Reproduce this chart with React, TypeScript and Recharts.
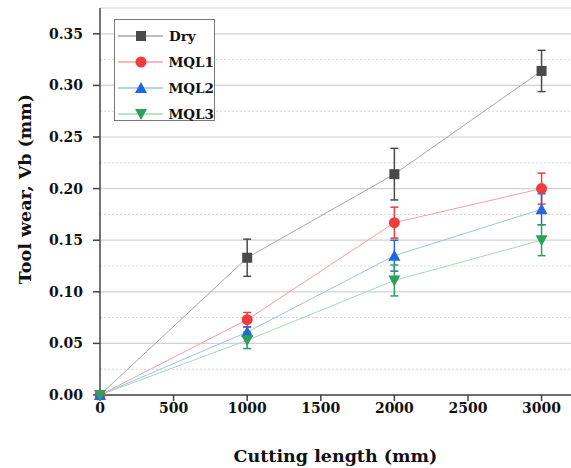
import React from "react";
import {
  CartesianGrid,
  ErrorBar,
  Line,
  LineChart,
  ReferenceLine,
  XAxis,
  YAxis,
} from "recharts";

const lengths = [0, 1000, 2000, 3000];

const dry = [0, 0.133, 0.214, 0.314];
const dryErr = [0, 0.018, 0.025, 0.02];
const mql1 = [0, 0.073, 0.167, 0.2];
const mql1Err = [0, 0.007, 0.015, 0.015];
const mql2 = [0, 0.061, 0.135, 0.18];
const mql2Err = [0, 0.005, 0.015, 0.015];
const mql3 = [0, 0.053, 0.111, 0.15];
const mql3Err = [0, 0.008, 0.015, 0.015];

const xTicks = [0, 500, 1000, 1500, 2000, 2500, 3000];
const yTicks = [0, 0.05, 0.1, 0.15, 0.2, 0.25, 0.3, 0.35];
const yMinor = [0.025, 0.075, 0.125, 0.175, 0.225, 0.275, 0.325];

const FONT = "'DejaVu Serif', 'Liberation Serif', serif";

type Shape = "square" | "circle" | "triangle" | "down";

const SERIES: {
  key: string;
  name: string;
  line: string;
  mark: string;
  shape: Shape;
}[] = [
  { key: "dry", name: "Dry", line: "#a8a8a8", mark: "#4a4a4a", shape: "square" },
  { key: "mql1", name: "MQL1", line: "#f4a2a2", mark: "#f03c3c", shape: "circle" },
  { key: "mql2", name: "MQL2", line: "#9fc1f2", mark: "#2168e0", shape: "triangle" },
  { key: "mql3", name: "MQL3", line: "#a2dab6", mark: "#2ca05e", shape: "down" },
];

const data = lengths.map((len, i) => ({
  len,
  dry: dry[i],
  dryErr: dryErr[i],
  mql1: mql1[i],
  mql1Err: mql1Err[i],
  mql2: mql2[i],
  mql2Err: mql2Err[i],
  mql3: mql3[i],
  mql3Err: mql3Err[i],
}));

function Marker({ cx, cy, shape, color }: { cx: number; cy: number; shape: Shape; color: string }) {
  if (shape === "square") {
    return <rect x={cx - 5} y={cy - 5} width={10} height={10} fill={color} />;
  }
  if (shape === "circle") {
    return <circle cx={cx} cy={cy} r={5.5} fill={color} />;
  }
  if (shape === "triangle") {
    return (
      <polygon
        points={`${cx},${cy - 6} ${cx - 6},${cy + 5} ${cx + 6},${cy + 5}`}
        fill={color}
      />
    );
  }
  return (
    <polygon
      points={`${cx},${cy + 6} ${cx - 6},${cy - 5} ${cx + 6},${cy - 5}`}
      fill={color}
    />
  );
}

function ChartLegend() {
  return (
    <div
      style={{
        position: "absolute",
        left: 114,
        top: 19,
        width: 101,
        height: 102,
        border: "1px solid #777",
        background: "#fff",
        boxSizing: "border-box",
        paddingTop: 3,
      }}
    >
      {SERIES.map((s) => (
        <div
          key={s.key}
          style={{ display: "flex", alignItems: "center", height: 26 }}
        >
          <svg width={50} height={16} style={{ marginLeft: 2 }}>
            <line x1={1} y1={8} x2={46} y2={8} stroke={s.line} strokeWidth={1.5} />
            <Marker cx={24} cy={8} shape={s.shape} color={s.mark} />
          </svg>
          <span
            style={{
              fontFamily: FONT,
              fontWeight: "bold",
              fontSize: 13.5,
              color: "#111",
              marginLeft: 2,
            }}
          >
            {s.name}
          </span>
        </div>
      ))}
    </div>
  );
}

export default function App() {
  const tickStyle = { fontFamily: FONT, fontWeight: "bold", fill: "#111" };
  const titleStyle = { fontFamily: FONT, fontWeight: "bold", fontSize: 17.5, fill: "#111" };
  return (
    <div style={{ position: "absolute", left: 0, top: 0, width: 571, height: 468, background: "#fff" }}>
      <LineChart
        width={571}
        height={468}
        data={data}
        margin={{ top: 8, right: 0, bottom: 0, left: 0 }}
      >
        <CartesianGrid vertical={false} stroke="#d2d2d2" strokeWidth={1.2} />
        {yMinor.map((v) => (
          <ReferenceLine
            key={v}
            y={v}
            stroke="#d6d6d6"
            strokeDasharray="2 2"
            strokeWidth={1}
          />
        ))}
        <XAxis
          xAxisId="top"
          orientation="top"
          type="number"
          domain={[0, 3200]}
          height={0}
          tick={false}
          tickLine={false}
          axisLine={{ stroke: "#444", strokeWidth: 1.5 }}
        />
        <XAxis
          dataKey="len"
          type="number"
          domain={[0, 3200]}
          ticks={xTicks}
          height={73}
          tickSize={6}
          tickMargin={2}
          axisLine={{ stroke: "#444", strokeWidth: 1.5 }}
          tickLine={{ stroke: "#444", strokeWidth: 1.5 }}
          tick={{ ...tickStyle, fontSize: 14 }}
          label={{
            value: "Cutting length (mm)",
            position: "insideBottom",
            offset: 6,
            style: titleStyle,
          }}
        />
        <YAxis
          type="number"
          domain={[0, 0.375]}
          ticks={yTicks}
          width={100}
          tickSize={7}
          tickMargin={10}
          tickFormatter={(v: number) => v.toFixed(2)}
          axisLine={{ stroke: "#444", strokeWidth: 1.5 }}
          tickLine={{ stroke: "#444", strokeWidth: 1.5 }}
          tick={{ ...tickStyle, fontSize: 14 }}
          label={{
            content: () => (
              <text
                x={25}
                y={189}
                transform="rotate(-90 25 189)"
                textAnchor="middle"
                dominantBaseline="central"
                style={titleStyle}
              >
                Tool wear, Vb (mm)
              </text>
            ),
          }}
        />
        {SERIES.map((s) => (
          <Line
            key={s.key}
            type="linear"
            dataKey={s.key}
            name={s.name}
            stroke={s.line}
            strokeWidth={1}
            isAnimationActive={false}
            activeDot={false}
            dot={(p: any) => (
              <Marker key={`${s.key}-${p.index}`} cx={p.cx} cy={p.cy} shape={s.shape} color={s.mark} />
            )}
          >
            <ErrorBar
              dataKey={`${s.key}Err`}
              direction="y"
              width={4}
              stroke={s.mark}
              strokeWidth={1.5}
            />
          </Line>
        ))}
      </LineChart>
      <ChartLegend />
    </div>
  );
}
